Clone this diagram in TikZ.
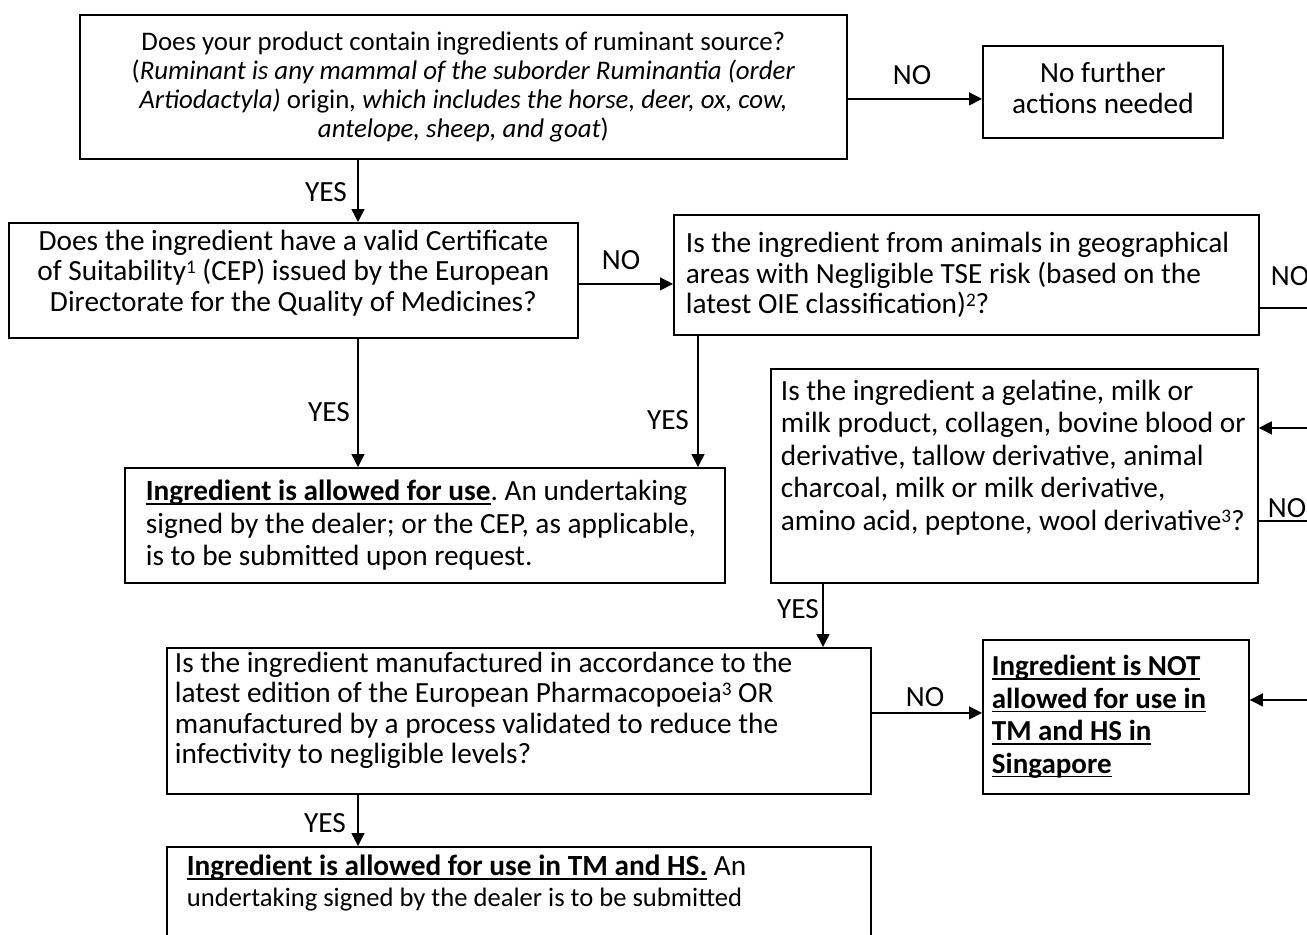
\documentclass[tikz,border=0pt]{standalone}
\usepackage{fontspec}
\setmainfont{Carlito}
\usetikzlibrary{arrows.meta,calc}
\newcommand\Lb[1]{\mbox{#1}}
\newcommand\myul[1]{\sbox0{#1}\makebox[0pt][l]{\rule[-2pt]{\wd0}{0.75pt}}\usebox0}
\newcommand\dn[1]{\rule[-#1]{0pt}{#1}}
\newcommand\sups[1]{\raisebox{3.6pt}{\fontsize{9.6pt}{10pt}\selectfont#1}}
\begin{document}
\begin{tikzpicture}[x=0.5pt,y=-0.5pt,
  box/.style={draw, line width=0.9pt, anchor=north west, inner ysep=0pt,
    font=\fontsize{14.65pt}{15.75pt}\selectfont,
    execute at begin node={\spaceskip=0pt\xspaceskip=0pt\frenchspacing}},
  arr/.style={line width=0.7pt, -{Triangle[length=6.5pt,width=6.5pt]}},
  lab/.style={font=\fontsize{14.65pt}{15.75pt}\selectfont, inner sep=0pt}]
\useasboundingbox (0,0) rectangle (1307,934);
\clip (0,0) rectangle (1307,934);

% boxes
\node[box, minimum width=383.5pt, minimum height=72pt, align=center,
  font=\fontsize{13.43pt}{14.5pt}\selectfont] (q1) at (79,14)
  {Does your product contain ingredients of ruminant source?\\
   (\textit{Ruminant is any mammal of the suborder Ruminantia (order}\\
   \textit{Artiodactyla)} origin\textit{, which includes the horse, deer, ox, cow,}\\
   \textit{antelope, sheep, and goat})};

\node[box, minimum width=120pt, minimum height=46pt, align=center] (done) at (982,45)
  {No further\\actions needed\dn{4pt}};

\node[box, minimum width=284.5pt, minimum height=57.5pt, align=center,
  font=\fontsize{14.65pt}{15.25pt}\selectfont] (q2) at (8,222)
  {Does the ingredient have a valid Certificate\\
   of Suitability\sups{1} (CEP) issued by the European\\
   Directorate for the Quality of Medicines?\dn{10pt}};

\node[box, minimum width=292.5pt, minimum height=60pt, inner xsep=6pt, text width=280.5pt, align=left,
  font=\fontsize{14.65pt}{15.25pt}\selectfont] (q3) at (673,214)
  {\Lb{Is the ingredient from animals in geographical}\\
   \Lb{areas with Negligible TSE risk (based on the}\\
   \Lb{latest OIE classification)\sups{2}?}};

\node[box, minimum width=300pt, minimum height=57.5pt, inner xsep=10.5pt, text width=279pt, align=left,
  font=\fontsize{14.65pt}{16.25pt}\selectfont] (a1) at (124,467)
  {\Lb{\myul{\textbf{Ingredient is allowed for use}}. An undertaking}\\
   \Lb{signed by the dealer; or the CEP, as applicable,}\\
   \Lb{is to be submitted upon request.}};

\node[box, minimum width=243.5pt, minimum height=107pt, inner xsep=5pt, text width=233.5pt, align=left,
  font=\fontsize{14.65pt}{16.25pt}\selectfont] (q4) at (770,368)
  {\Lb{Is the ingredient a gelatine, milk or}\\
   \Lb{milk product, collagen, bovine blood or}\\
   \Lb{derivative, tallow derivative, animal}\\
   \Lb{charcoal, milk or milk derivative,}\\
   \Lb{amino acid, peptone, wool derivative\sups{3}?}\dn{21pt}};

\node[box, minimum width=352pt, minimum height=73pt, inner xsep=4pt, text width=344pt, align=left,
  font=\fontsize{14.65pt}{15.25pt}\selectfont] (q5) at (166,647)
  {\Lb{Is the ingredient manufactured in accordance to the}\\
   \Lb{latest edition of the European Pharmacopoeia\sups{3} OR}\\
   \Lb{manufactured by a process validated to reduce the}\\
   \Lb{infectivity to negligible levels?}\dn{13pt}};

\node[box, minimum width=133pt, minimum height=77pt, inner xsep=4.5pt, text width=124pt, align=left,
  font=\fontsize{14.5pt}{16.25pt}\selectfont] (bad) at (982,639)
  {\myul{\textbf{Ingredient is NOT}}\\
   \myul{\textbf{allowed for use in}}\\
   \myul{\textbf{TM and HS in}}\\
   \myul{\textbf{Singapore}}};

\node[box, minimum width=352pt, minimum height=100pt, inner xsep=10pt, text width=332pt, align=left,
  font=\fontsize{14.65pt}{15.25pt}\selectfont] (a2) at (166,846)
  {\Lb{\myul{\textbf{Ingredient is allowed for use in TM and HS.}} An}\\
   \Lb{\fontsize{13.3pt}{15.25pt}\selectfont undertaking signed by the dealer is to be submitted}\dn{66pt}};

% labels
\node[lab] (n1) at (912,75) {NO};
\node[lab] (y1) at (326,192) {YES};
\node[lab] (n2) at (621,260) {NO};
\node[lab] (y2) at (329,412) {YES};
\node[lab] (y3) at (668,420) {YES};
\node[lab] (n3) at (1290,276) {NO};
\node[lab] (n4) at (1287,508) {NO};
\node[lab] (y4) at (798,609) {YES};
\node[lab] (n5) at (925,697) {NO};
\node[lab] (y5) at (325,823) {YES};

% connectors
\draw[arr] ([yshift=-6pt]q1.east) -- ([yshift=-6pt]q1.east -| done.west);
\draw[arr] ([xshift=139.5pt]q1.south west) coordinate (s1) -- (s1 |- q2.north);
\draw[arr] ([yshift=-1.75pt]q2.east) -- ([yshift=-1.75pt]q2.east -| q3.west);
\draw[arr] ([xshift=175pt]q2.south west) coordinate (s2) -- (s2 |- a1.north);
\draw[arr] ([xshift=12.5pt]q3.south west) coordinate (s3) -- (s3 |- a1.north);
\draw[arr] ([yshift=-16.5pt]q3.east) -- ++(40pt,0) |- ([yshift=24pt]q4.east);
\draw[arr] ([yshift=-22.5pt]q4.east) -- ++(40pt,0) |- ([yshift=8.5pt]bad.east);
\draw[arr] ([xshift=26.5pt]q4.south west) coordinate (s4) -- (s4 |- q5.north);
\draw[arr] ([yshift=4pt]q5.east) -- ([yshift=4pt]q5.east -| bad.west);
\draw[arr] ([xshift=96pt]q5.south west) coordinate (s5) -- (s5 |- a2.north);
\end{tikzpicture}
\end{document}
